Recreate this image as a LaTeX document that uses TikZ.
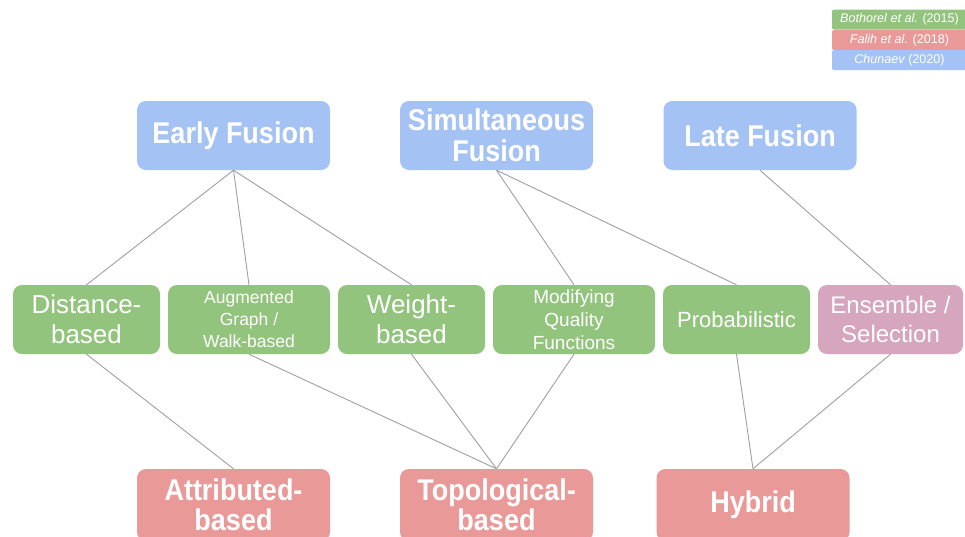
\documentclass[tikz,border=0pt]{standalone}
\usepackage{fontspec}
\setmainfont{Liberation Sans}
\newfontface\titrefont{Liberation Sans Bold}[FakeStretch=0.9]
\usepackage{tikz}
\definecolor{vert}{RGB}{147,196,125}
\definecolor{rouge}{RGB}{234,153,153}
\definecolor{bleu}{RGB}{164,194,244}
\definecolor{rose}{RGB}{213,166,189}
\definecolor{trait}{RGB}{160,160,160}

\tikzset{
  boite/.style={rounded corners=9pt, inner sep=0pt, align=center, text=white},
  haut/.style={boite, fill=bleu, minimum width=193pt, minimum height=69pt,
    font=\titrefont\fontsize{30}{31}\selectfont},
  bas/.style={boite, fill=rouge, minimum width=193pt, minimum height=72pt,
    font=\titrefont\fontsize{30}{30}\selectfont},
  milieu/.style={boite, fill=vert, minimum height=69pt},
  legende/.style={rounded corners=2pt, inner sep=0pt, minimum width=135pt,
    minimum height=20pt, text=white, font=\fontsize{12.6}{14}\selectfont},
  lien/.style={draw=trait, line width=0.9pt}
}

\begin{document}
\begin{tikzpicture}[x=1pt, y=-1pt]

% Fond
\fill[white] (0,0) rectangle (965,536);
\useasboundingbox (0,0) rectangle (965,536);

% Legende
\node[legende, fill=vert]  (legA) at (899.5,19.5) {\itshape Bothorel et al.\upshape{} (2015)};
\node[legende, fill=rouge] (legB) at (899.5,40)   {\itshape Falih et al.\upshape{} (2018)};
\node[legende, fill=bleu]  (legC) at (899.5,60)   {\itshape Chunaev\upshape{} (2020)};

% Approches
\node[haut] (early)  at (233.5,135.5) {Early Fusion};
\node[haut] (simult) at (496.5,135.5) {Simultaneous\\Fusion};
\node[haut] (late)   at (760,135.5)   {Late Fusion};

% Methodes
\node[milieu, minimum width=147pt, font=\fontsize{26}{30}\selectfont]
  (dist) at (86.5,319.5) {Distance-\\based};
\node[milieu, minimum width=162pt, font=\fontsize{17.5}{22}\selectfont]
  (augm) at (249,319.5) {Augmented\\Graph /\\Walk-based};
\node[milieu, minimum width=147pt, font=\fontsize{26}{30}\selectfont]
  (weight) at (411.5,319.5) {Weight-\\based};
\node[milieu, minimum width=162pt, font=\fontsize{19}{23}\selectfont]
  (modif) at (574,319.5) {Modifying\\Quality\\Functions};
\node[milieu, minimum width=147pt, font=\fontsize{22}{29}\selectfont]
  (proba) at (736.5,319.5) {Probabilistic};
\node[milieu, fill=rose, minimum width=145pt, font=\fontsize{24}{29}\selectfont]
  (ensemble) at (890.5,319.5) {Ensemble /\\Selection};

% Types
\node[bas] (attr)   at (233.5,505) {Attributed-\\based};
\node[bas] (topo)   at (496.5,505) {Topological-\\based};
\node[bas] (hybrid) at (753,505)   {Hybrid};

% Liens
\draw[lien] (early.south) -- (dist.north);
\draw[lien] (early.south) -- (augm.north);
\draw[lien] (early.south) -- (weight.north);
\draw[lien] (simult.south) -- (modif.north);
\draw[lien] (simult.south) -- (proba.north);
\draw[lien] (late.south) -- (ensemble.north);

\draw[lien] (dist.south) -- (attr.north);
\draw[lien] (augm.south) -- (topo.north);
\draw[lien] (weight.south) -- (topo.north);
\draw[lien] (modif.south) -- (topo.north);
\draw[lien] (proba.south) -- (hybrid.north);
\draw[lien] (ensemble.south) -- (hybrid.north);

\end{tikzpicture}
\end{document}
